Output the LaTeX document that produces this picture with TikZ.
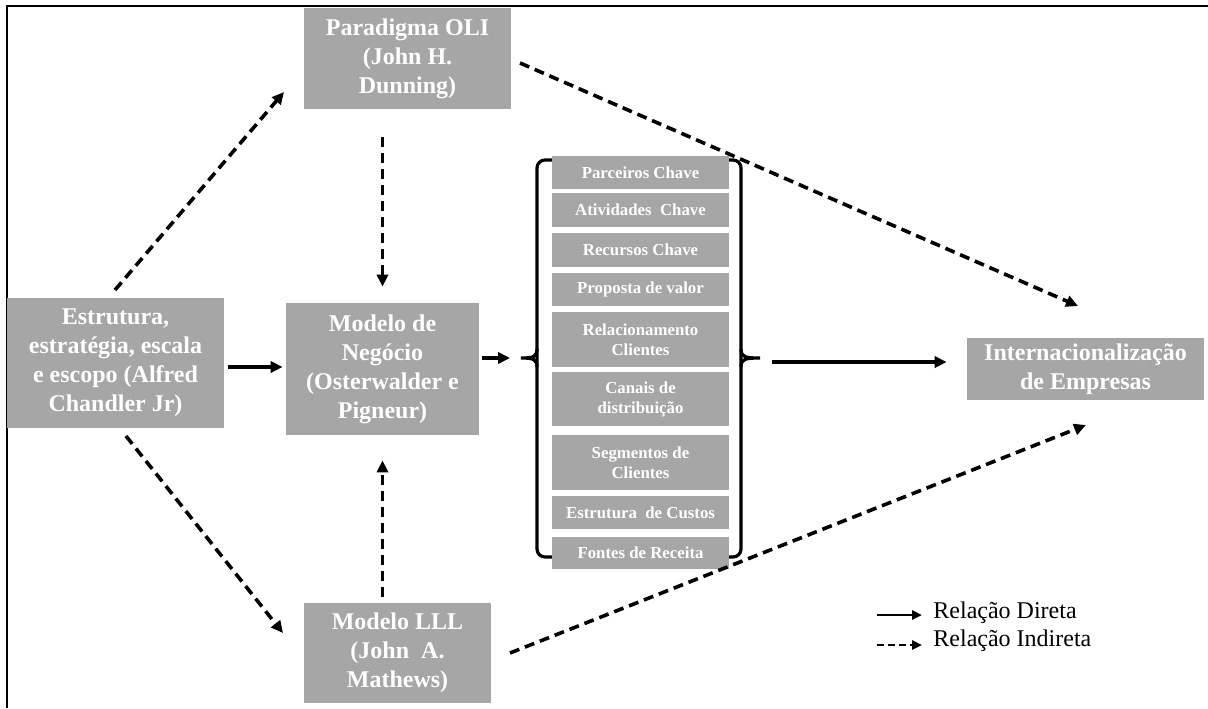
\documentclass[tikz,border=0pt]{standalone}
\usepackage{fontspec}
\setmainfont{Liberation Serif}
\usetikzlibrary{arrows.meta,calc}
\definecolor{boxgray}{HTML}{A6A6A6}
\tikzset{
  gbox/.style={fill=boxgray, draw=none, text=white, font=\bfseries\fontsize{12}{14.5}\selectfont, align=center, inner sep=0pt},
  lbox/.style={fill=boxgray, draw=none, text=white, font=\bfseries\fontsize{8.4}{10}\selectfont, align=center, inner sep=0pt, minimum width=88.5pt},
  dir/.style={line width=1.8pt, -{Triangle[length=6pt,width=5.6pt]}},
  ind/.style={dir, dash pattern=on 5pt off 3pt},
  bracestyle/.style={line width=1.6pt},
  legtext/.style={font=\fontsize{12}{14}\selectfont, anchor=base west, inner sep=0pt}
}
\begin{document}
\begin{tikzpicture}[x=0.5pt,y=-0.5pt]
\useasboundingbox (0,0) rectangle (1208,708);
\draw[line width=1pt] (7,708) -- (7,6) -- (1208,6);

% main boxes
\node[gbox, minimum width=103.5pt, minimum height=50.5pt] (oli) at (407.5,58.5) {Paradigma OLI\\(John H.\\Dunning)};
\node[gbox, minimum width=108.5pt, minimum height=65pt] (chandler) at (115.5,363) {Estrutura,\\estratégia, escala\\e escopo (Alfred\\Chandler Jr)};
\node[gbox, minimum width=96.5pt, minimum height=66pt] (modelo) at (382.5,369) {Modelo de\\Negócio\\(Osterwalder e\\Pigneur)};
\node[gbox, minimum width=93.5pt, minimum height=50pt] (lll) at (397.5,653) {Modelo LLL\\(John~ A.\\Mathews)};
\node[gbox, minimum width=118.5pt, minimum height=31pt] (inter) at (1085.5,369) {Internacionalização\\de Empresas};

% braces
\draw[bracestyle, rounded corners=4pt] (552,160) -- (537,160) -- (537,557) -- (552,557);
\draw[bracestyle] (537,349) .. controls (537,357) and (533,358) .. (521,358) .. controls (533,358) and (537,359) .. (537,367);
\draw[bracestyle, rounded corners=4pt] (727,160) -- (741,160) -- (741,557) -- (727,557);
\draw[bracestyle] (741,349) .. controls (741,357) and (745,358) .. (760,358) .. controls (745,358) and (741,359) .. (741,367);
\coordinate (lbt) at (521,358);
\coordinate (rbt) at (760,358);

% list boxes
\node[lbox, minimum height=16.5pt] (k1) at (640.5,172.5) {Parceiros Chave};
\node[lbox, minimum height=17pt] (k2) at (640.5,210) {Atividades~ Chave};
\node[lbox, minimum height=17pt] (k3) at (640.5,250) {Recursos Chave};
\node[lbox, minimum height=16.5pt] (k4) at (640.5,289.5) {Proposta de valor};
\node[lbox, minimum height=27.5pt] (k5) at (640.5,339.5) {Relacionamento\\Clientes};
\node[lbox, minimum height=27pt] (k6) at (640.5,399) {Canais de\\distribuição};
\node[lbox, minimum height=27.5pt] (k7) at (640.5,462.5) {Segmentos de\\Clientes};
\node[lbox, minimum height=16.5pt] (k8) at (640.5,512.5) {Estrutura~ de Custos};
\node[lbox, minimum height=16pt] (k9) at (640.5,553) {Fontes de Receita};

% direct arrows
\draw[dir, shorten <=2pt, shorten >=1.5pt] (chandler.east |- 0,367) -- (modelo.west |- 0,367);
\draw[dir, shorten <=1.5pt, shorten >=5.5pt] (modelo.east |- lbt) -- (lbt);
\draw[dir, shorten <=6pt, shorten >=10pt] (rbt |- 0,362) -- (inter.west |- 0,362);

% indirect arrows
\draw[ind, shorten <=14pt, shorten >=8pt] (modelo.north |- oli.south) -- (modelo.north);
\draw[ind, shorten <=3pt, shorten >=12.5pt] (modelo.south |- lll.north) -- (modelo.south);
\coordinate (c1) at (115,290); \coordinate (c1e) at (284,92);
\coordinate (c2) at (126,436); \coordinate (c2e) at (283,633);
\coordinate (o1) at (520,63); \coordinate (o1e) at (1078,306);
\coordinate (l1) at (510,653); \coordinate (l1e) at (1086,425);
\draw[ind] (c1) -- (c1e);
\draw[ind] (c2) -- (c2e);
\draw[ind] (o1) -- (o1e);
\draw[ind] (l1) -- (l1e);

% legend
\coordinate (ld1) at (877,615); \coordinate (ld2) at (922,615);
\coordinate (li1) at (877,645); \coordinate (li2) at (922,645);
\draw[dir, line width=1.3pt, -{Triangle[length=5pt,width=4.5pt]}] (ld1) -- (ld2);
\draw[ind, line width=1.3pt, dash pattern=on 3.5pt off 2pt, -{Triangle[length=5pt,width=4.5pt]}] (li1) -- (li2);
\node[legtext] (ldt) at (933,618) {Relação Direta};
\node[legtext] (lit) at (933,646) {Relação Indireta};
\end{tikzpicture}
\end{document}
